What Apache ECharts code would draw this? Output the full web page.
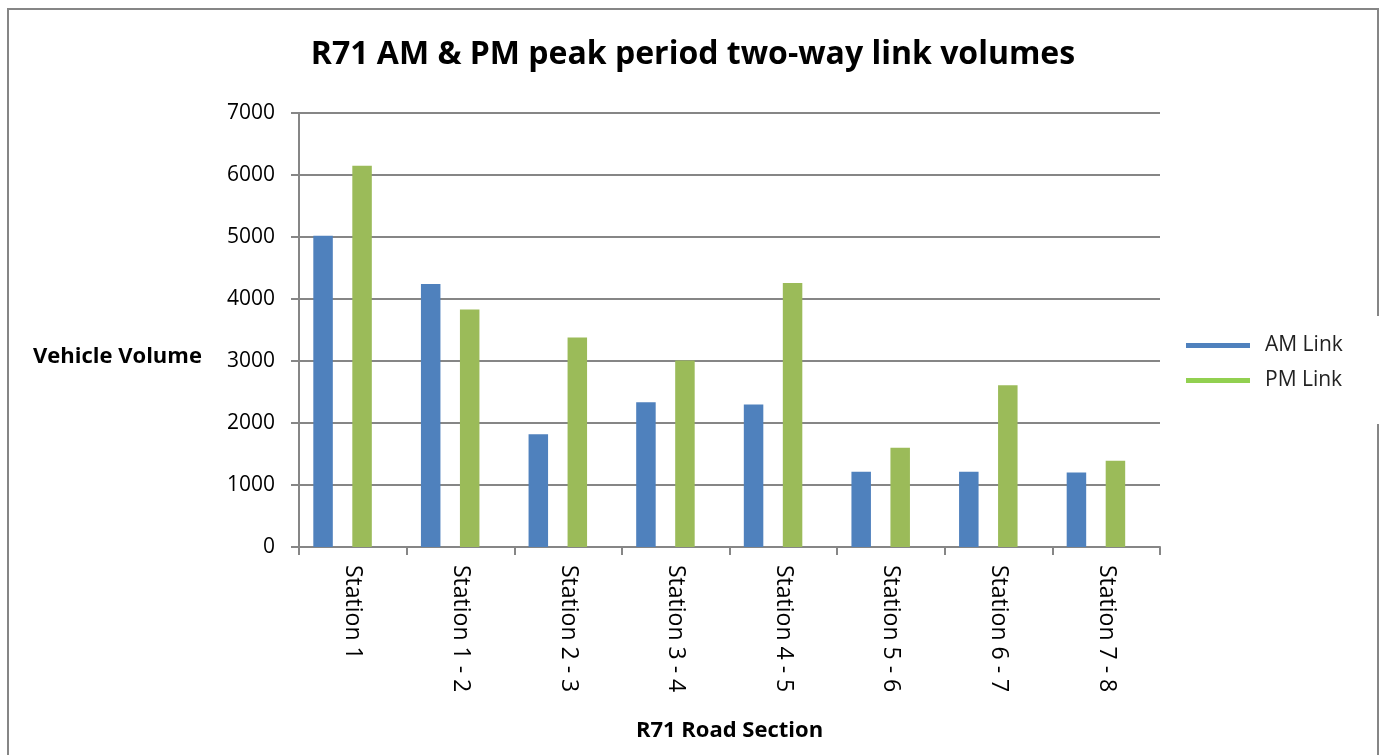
<!DOCTYPE html>
<html>
<head>
<meta charset="utf-8">
<script src="https://cdn.jsdelivr.net/npm/echarts@6/dist/echarts.min.js"></script>
<style>html,body{margin:0;padding:0;background:#fff}#c{width:1383px;height:755px}</style>
</head>
<body>
<div id="c"></div>
<script>
const categories = ['Station 1','Station 1 - 2','Station 2 - 3','Station 3 - 4','Station 4 - 5','Station 5 - 6','Station 6 - 7','Station 7 - 8'];
const amLink = [5020, 4240, 1820, 2335, 2300, 1215, 1215, 1200];
const pmLink = [6150, 3830, 3380, 3010, 4260, 1600, 2610, 1390];
const yTicks = {min: 0, max: 7000, interval: 1000};

const FONT = "'Open Sans', 'Noto Sans', sans-serif";
const chart = echarts.init(document.getElementById('c'), null, {renderer: 'canvas'});
chart.setOption({
  animation: false,
  backgroundColor: '#fff',
  title: [{
    text: 'R71 AM & PM peak period two-way link volumes',
    left: 688, top: 34, textAlign: 'center',
    textStyle: {fontFamily: FONT, fontWeight: 'bold', fontSize: 32, color: '#000'}
  }, {
    text: 'Vehicle Volume',
    left: 28, top: 341,
    textStyle: {fontFamily: FONT, fontWeight: 'bold', fontSize: 22, color: '#000'}
  }],
  legend: {
    orient: 'vertical', left: 1181, top: 330, itemGap: 14,
    icon: 'rect', itemWidth: 64, itemHeight: 5,
    textStyle: {fontFamily: FONT, fontSize: 21, color: '#222', padding: [0,0,0,10]},
    data: [
      {name: 'AM Link', itemStyle: {color: '#4F81BD'}},
      {name: 'PM Link', itemStyle: {color: '#92D050'}}
    ]
  },
  grid: {left: 299, right: 223, top: 113, bottom: 208, containLabel: false},
  xAxis: {
    type: 'category', data: categories,
    name: 'R71 Road Section', nameLocation: 'middle', nameGap: 173,
    nameTextStyle: {fontFamily: FONT, fontWeight: 'bold', fontSize: 22, color: '#000'},
    axisLine: {lineStyle: {color: '#868686', width: 2}},
    axisTick: {show: true, length: 8, lineStyle: {color: '#868686', width: 2}},
    axisLabel: {rotate: -90, margin: 18, fontFamily: FONT, fontSize: 23, color: '#000', interval: 0}
  },
  yAxis: {
    type: 'value', min: yTicks.min, max: yTicks.max, interval: yTicks.interval,
    axisLine: {show: true, lineStyle: {color: '#868686', width: 2}},
    axisTick: {show: true, length: 8, lineStyle: {color: '#868686', width: 2}},
    splitLine: {lineStyle: {color: '#868686', width: 2}},
    axisLabel: {margin: 24, fontFamily: FONT, fontSize: 21, color: '#000', formatter: v => String(v)}
  },
  graphic: [{
    type: 'rect', shape: {x: 8, y: 9, width: 1370, height: 760},
    style: {fill: 'none', stroke: '#868686', lineWidth: 2}, silent: true, z: -10
  }, {
    type: 'rect', shape: {x: 1370, y: 316, width: 13, height: 108},
    style: {fill: '#fff'}, silent: true, z: -9
  }],
  series: [
    {name: 'AM Link', type: 'bar', data: amLink, barWidth: 19.5, barGap: '100%',
     itemStyle: {color: '#4F81BD'}},
    {name: 'PM Link', type: 'bar', data: pmLink, barWidth: 19.5, barGap: '100%',
     itemStyle: {color: '#9BBB59'}},
    {name: 'spacer', type: 'bar', data: [], barWidth: 1, barGap: '100%', silent: true}
  ]
});
</script>
</body>
</html>
